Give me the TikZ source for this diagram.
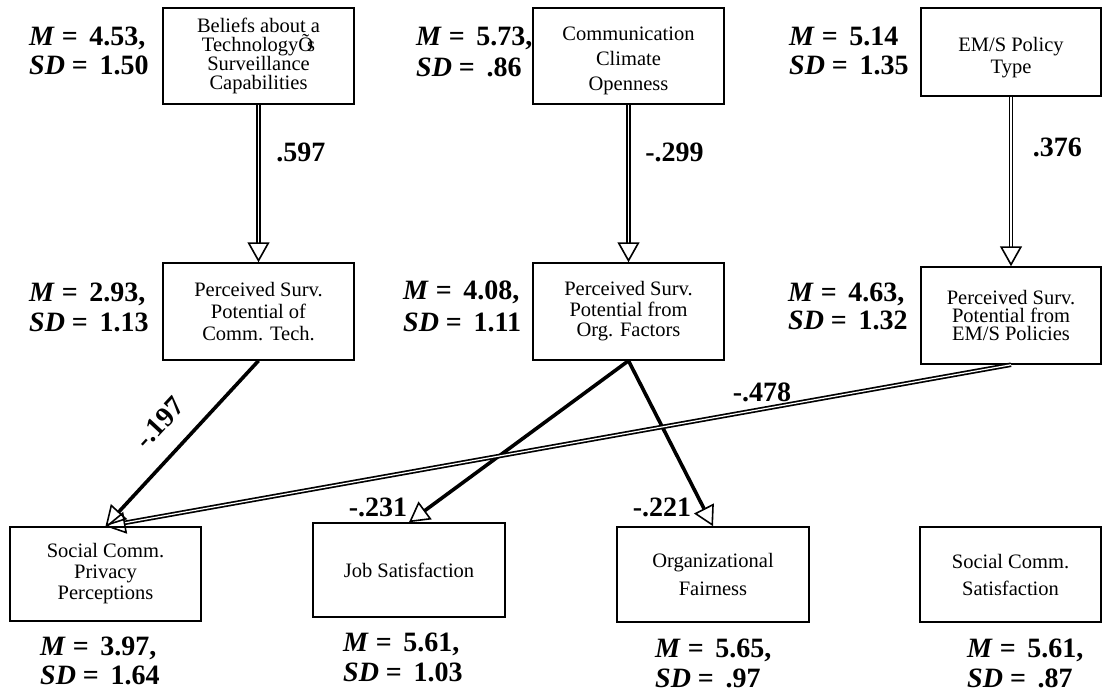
\documentclass[tikz,border=0pt]{standalone}
\usepackage{fontspec}
\setmainfont{Liberation Serif}
\usepackage{tikz}
\usetikzlibrary{arrows.meta,positioning}

\newcommand{\boxtxt}[1]{\fontsize{20.5}{#1}\selectfont}
\newcommand{\stattxt}[1]{\fontsize{28}{#1}\selectfont\bfseries}
\newcommand{\msd}[2]{\textit{M} = \,#1\\\textit{SD} = \,#2}

\begin{document}
\begin{tikzpicture}[x=1pt, y=-1pt,
    var/.style={rectangle, draw=black, line width=1.5pt, minimum width=191pt, minimum height=96pt, inner sep=2pt, align=center},
    stat/.style={anchor=west, align=left, inner sep=0pt},
    coef/.style={inner sep=0pt, font=\fontsize{28}{30}\selectfont\bfseries},
    effect/.style={line width=3.6pt, -{Triangle[open, length=20pt, width=22pt, line width=1.6pt]}},
    dbleffect/.style={line width=1.7pt, double distance=1.2pt, -{Triangle[open, length=20pt, width=22pt, line width=1.6pt]}}
]
\useasboundingbox (0,0) rectangle (1104,698);

% Predictors - top row
\node[var, font=\boxtxt{18.5}] (beliefs) at (258.5,56) {Beliefs about a\\TechnologyÕ\kern-0.3em s\\Surveillance\\Capabilities};
\node[var, font=\boxtxt{25}] (climate) at (628.5,56) {\rule{0pt}{24pt}Communication\\Climate\\Openness};
\node[var, minimum width=180pt, minimum height=88pt, font=\boxtxt{22}] (policy) at (1011,52) {\rule{0pt}{25pt}EM/S Policy\\Type};

% Perceived surveillance potential - middle row
\node[var, minimum height=97pt, font=\boxtxt{22}] (survtech) at (258.5,311.5) {Perceived Surv.\\Potential of\\Comm. Tech.};
\node[var, minimum height=97pt, font=\boxtxt{20.5}] (survorg) at (628.5,311.5) {Perceived Surv.\\Potential from\\Org. Factors};
\node[var, minimum width=180pt, minimum height=97pt, font=\boxtxt{18}] (survpol) at (1011,315.5) {Perceived Surv.\\Potential from\\EM/S Policies};

% Outcomes - bottom row
\node[var, minimum height=94pt, font=\boxtxt{21}] (privacy) at (105.5,574) {Social Comm.\\Privacy\\Perceptions};
\node[var, minimum width=192pt, minimum height=94pt, font=\boxtxt{20}] (jobsat) at (409,570) {Job Satisfaction};
\node[var, minimum width=192pt, minimum height=95pt, font=\boxtxt{28}] (fair) at (713,574.5) {Organizational\\Fairness};
\node[var, minimum width=181pt, minimum height=95pt, font=\boxtxt{27}] (socsat) at (1010.5,574.5) {Social Comm.\\Satisfaction};

% Means and SDs
\node[stat, font=\stattxt{29}] (beliefsstat) at (29,50.5) {\msd{4.53,}{1.50}};
\node[stat, font=\stattxt{31}] (climatestat) at (416,52) {\msd{5.73,}{.86}};
\node[stat, font=\stattxt{29}] (policystat) at (789,50.5) {\msd{5.14}{1.35}};
\node[stat, font=\stattxt{30}] (survtechstat) at (29,307) {\msd{2.93,}{1.13}};
\node[stat, font=\stattxt{32}] (survorgstat) at (403,306) {\msd{4.08,}{1.11}};
\node[stat, font=\stattxt{28}] (survpolstat) at (788,306) {\msd{4.63,}{1.32}};
\node[stat, font=\stattxt{29}] (privacystat) at (40,661) {\msd{3.97,}{1.64}};
\node[stat, font=\stattxt{30}] (jobsatstat) at (343,657) {\msd{5.61,}{1.03}};
\node[stat, font=\stattxt{30}] (fairstat) at (655,663) {\msd{5.65,}{.97}};
\node[stat, font=\stattxt{30}] (socsatstat) at (967,663) {\msd{5.61,}{.87}};

% Paths
\draw[dbleffect] (beliefs) -- node[coef, pos=0.3, right=17pt] {.597} (survtech);
\draw[dbleffect] (climate) -- node[coef, pos=0.3, right=16pt] {-.299} (survorg);
\draw[dbleffect] (policy) -- node[coef, pos=0.3, right=21pt] {.376} (survpol);

\draw[effect] (survtech.south) -- node[coef, pos=0.5, sloped, above=19pt] {-.197} (privacy.north);
\draw[effect] (survorg.south) -- node[coef, at end, anchor=base east, yshift=6pt] {-.231} (jobsat.north);
\draw[effect] (survorg.south) -- node[coef, at end, anchor=base east, xshift=-20pt, yshift=10pt] {-.221} (fair.north);
\draw[dbleffect] (survpol.south) -- node[coef, pos=0.275, above=6pt] {-.478} (privacy.north);

\end{tikzpicture}
\end{document}
